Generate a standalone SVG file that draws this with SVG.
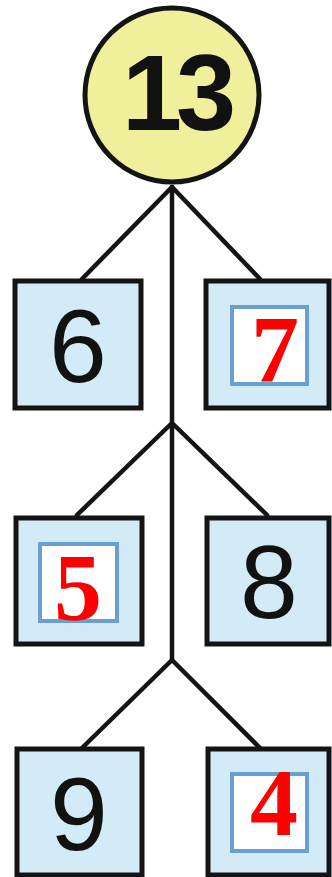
<svg xmlns="http://www.w3.org/2000/svg" width="332" height="877" viewBox="0 0 332 877">
<style>
.box{fill:#d3ebf6;stroke:#141414;stroke-width:5}
.inner{fill:#ffffff;stroke:#6a9fd2;stroke-width:4}
.num{font-family:"Liberation Sans",Arial,sans-serif;font-size:104px;fill:#111;text-anchor:middle}
.ans{font-family:"Liberation Serif","Times New Roman",serif;font-weight:bold;font-size:96px;fill:#ff0000;text-anchor:middle}
.ln{stroke:#141414;stroke-width:4.5;fill:none;stroke-linecap:round;stroke-linejoin:round}
</style>
<rect width="332" height="877" fill="#ffffff"/>
<g id="connectors">
<path class="ln" d="M172,187 L172,660"/>
<path class="ln" d="M82,279 L172,187 L260,279"/>
<path class="ln" d="M77,515 L172,423 L267,515"/>
<path class="ln" d="M82,748 L172,660 L260,748"/>
</g>
<g id="n13">
<circle cx="172" cy="95" r="87" fill="#efef9c" stroke="#141414" stroke-width="5"/>
<text x="176" y="130" font-family="'Liberation Sans',Arial,sans-serif" font-weight="bold" font-size="108" fill="#111" text-anchor="middle" letter-spacing="-6">13</text>
</g>
<g id="n6">
<rect class="box" x="15" y="281" width="126" height="127"/>
<text class="num" x="78" y="382">6</text>
</g>
<g id="n7">
<rect class="box" x="206" y="281" width="123" height="127"/>
<rect class="inner" x="232" y="307" width="75" height="77"/>
<text class="ans" x="275" y="382">7</text>
</g>
<g id="n5">
<rect class="box" x="16" y="518" width="126" height="126"/>
<rect class="inner" x="40" y="544" width="77" height="77"/>
<text class="ans" x="78" y="620">5</text>
</g>
<g id="n8">
<rect class="box" x="207" y="518" width="122" height="126"/>
<text class="num" x="269" y="618">8</text>
</g>
<g id="n9">
<rect class="box" x="17" y="749" width="125" height="126"/>
<text class="num" x="79" y="850">9</text>
</g>
<g id="n4">
<rect class="box" x="208" y="749" width="121" height="126"/>
<rect class="inner" x="232" y="774" width="75" height="77"/>
<text class="ans" x="274" y="835">4</text>
</g>
</svg>
